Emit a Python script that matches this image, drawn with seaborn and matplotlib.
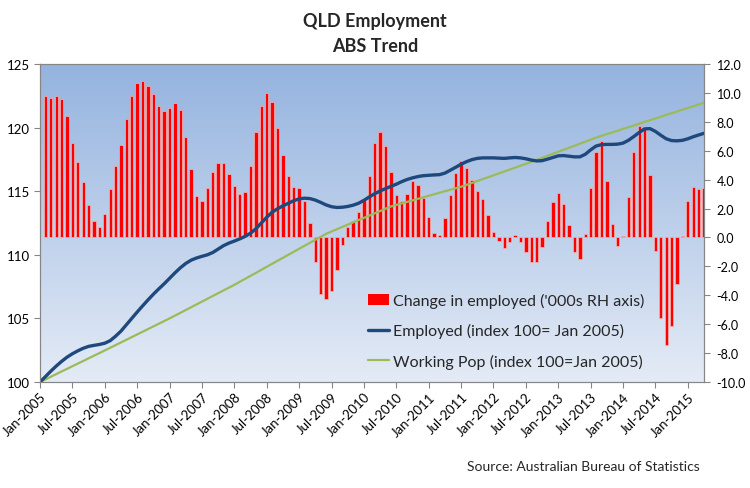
import seaborn as sns
import numpy as np
import matplotlib.pyplot as plt
import matplotlib.colors as mcolors
from matplotlib.patches import Patch
from matplotlib.lines import Line2D

# months Jan-2005 .. Apr-2015 (index 0..123)
months = [f"{m}-{y}" for y in range(2005, 2016) for m in
          ["Jan", "Feb", "Mar", "Apr", "May", "Jun", "Jul", "Aug", "Sep", "Oct", "Nov", "Dec"]][:124]

# change in employed ('000s), Feb-2005 .. Apr-2015
change = [9.77, 9.65, 9.77, 9.56, 8.41, 6.54, 5.20, 3.82, 2.25, 1.12, 0.73,
          1.63, 3.36, 4.97, 6.40, 8.20, 9.77, 10.69, 10.81, 10.51, 9.93, 9.12, 8.78,
          8.96, 9.29, 8.82, 6.93, 4.72, 2.87, 2.55, 3.43, 4.56, 5.18, 5.18, 4.39,
          3.59, 3.01, 3.17, 4.92, 7.28, 9.08, 10.00, 9.35, 7.58, 5.72, 4.28, 3.52,
          3.40, 2.55, 1.00, -1.72, -3.91, -4.26, -3.68, -2.23, -0.50, 0.70, 1.16, 1.74,
          2.62, 4.26, 6.54, 7.28, 6.31, 4.51, 2.94, 2.50, 3.01, 3.89, 3.63, 2.71,
          1.40, 0.31, 0.17, 1.33, 2.94, 4.46, 5.29, 4.78, 4.00, 3.24, 2.66, 1.56,
          0.40, -0.24, -0.75, -0.33, 0.20, -0.29, -0.98, -1.67, -1.67, -0.68, 1.14, 2.48,
          3.08, 2.32, 0.87, -0.98, -1.49, 0.27, 3.40, 5.89, 6.70, 3.89, 0.96, -0.57,
          0.10, 2.78, 5.94, 7.74, 7.58, 4.33, -0.91, -5.59, -7.44, -6.10, -3.22, 0.10,
          2.55, 3.52, 3.36, 3.40]

# employed index (100 = Jan 2005), Jan-2005 .. Apr-2015
employed = [100.00, 100.42, 100.85, 101.25, 101.62, 101.95, 102.22, 102.45, 102.65, 102.80, 102.88, 102.95,
            103.05, 103.25, 103.60, 104.00, 104.50, 105.00, 105.50, 105.98, 106.45, 106.90, 107.32, 107.72,
            108.15, 108.58, 108.98, 109.32, 109.58, 109.75, 109.88, 110.00, 110.18, 110.45, 110.72, 110.92,
            111.08, 111.25, 111.45, 111.70, 112.05, 112.50, 112.95, 113.35, 113.62, 113.85, 114.05, 114.25,
            114.40, 114.45, 114.42, 114.30, 114.12, 113.92, 113.78, 113.72, 113.74, 113.80, 113.90, 114.05,
            114.28, 114.55, 114.80, 115.02, 115.20, 115.38, 115.55, 115.75, 115.92, 116.05, 116.15, 116.22,
            116.25, 116.28, 116.30, 116.42, 116.65, 116.88, 117.12, 117.32, 117.48, 117.58, 117.62, 117.62,
            117.62, 117.60, 117.58, 117.62, 117.65, 117.62, 117.55, 117.45, 117.38, 117.40, 117.52, 117.65,
            117.78, 117.80, 117.75, 117.70, 117.70, 117.90, 118.25, 118.55, 118.66, 118.68, 118.68, 118.70,
            118.78, 119.00, 119.30, 119.62, 119.90, 119.92, 119.70, 119.40, 119.12, 118.98, 118.96, 119.00,
            119.12, 119.28, 119.42, 119.55]

# working age population index (100 = Jan 2005)
working_pop = [100.00, 100.20, 100.41, 100.62, 100.83, 101.03, 101.24, 101.45, 101.65, 101.86, 102.07, 102.27,
               102.48, 102.69, 102.90, 103.11, 103.32, 103.53, 103.74, 103.95, 104.16, 104.37, 104.58, 104.79,
               105.00, 105.22, 105.44, 105.66, 105.88, 106.10, 106.32, 106.54, 106.76, 106.98, 107.20, 107.42,
               107.64, 107.88, 108.11, 108.35, 108.58, 108.82, 109.06, 109.29, 109.53, 109.76, 110.00, 110.24,
               110.47, 110.71, 110.94, 111.18, 111.41, 111.65, 111.83, 112.01, 112.19, 112.37, 112.55, 112.73,
               112.90, 113.08, 113.26, 113.44, 113.62, 113.80, 113.92, 114.04, 114.16, 114.28, 114.40, 114.52,
               114.64, 114.76, 114.88, 115.00, 115.11, 115.23, 115.35, 115.50, 115.65, 115.80, 115.95, 116.10,
               116.25, 116.40, 116.55, 116.70, 116.85, 117.00, 117.15, 117.30, 117.46, 117.62, 117.78, 117.94,
               118.10, 118.26, 118.41, 118.57, 118.73, 118.89, 119.05, 119.21, 119.35, 119.49, 119.62, 119.76,
               119.90, 120.03, 120.17, 120.31, 120.45, 120.58, 120.72, 120.86, 121.00, 121.13, 121.27, 121.41,
               121.54, 121.68, 121.82, 121.95]

sns.set_style("white")
plt.rcParams['font.family'] = ['Lato', 'DejaVu Sans']

fig = plt.figure(figsize=(7.5, 4.89), dpi=100)
ax = fig.add_axes([40/750, 1-383/489, 664/750, 318/489])
ax2 = ax.twinx()

idx_all = np.arange(len(employed))
idx_bar = np.arange(1, len(employed))

# gradient background
cmap = mcolors.LinearSegmentedColormap.from_list("bg", ["#E4EBF6", "#95B3DF"])
grad = np.linspace(0, 1, 256).reshape(-1, 1)
ax.imshow(grad, extent=[0, 123, -10, 12], origin="lower", aspect="auto", cmap=cmap, zorder=0)

sns.barplot(x=idx_bar, y=change, native_scale=True, width=0.62, color="#FF0000",
            edgecolor="#F7B4B4", linewidth=0.5, saturation=1, ax=ax, zorder=2)
sns.lineplot(x=idx_all, y=working_pop, color="#9BBB59", linewidth=1.6, ax=ax2)
sns.lineplot(x=idx_all, y=employed, color="#1F497D", linewidth=2.4, ax=ax2)

ax.set_xlim(0, 123)
ax.set_ylim(-10, 12)
ax2.set_ylim(100, 125)

# bars axis on the right, index axis on the left
ax.yaxis.tick_right()
ax.yaxis.set_label_position("right")
ax2.yaxis.tick_left()
ax2.yaxis.set_label_position("left")
ax.set_yticks(np.arange(-10, 13, 2))
ax.set_yticklabels([f"{v:.1f}" for v in np.arange(-10, 13, 2)])
ax2.set_yticks(np.arange(100, 126, 5))

xt = list(range(0, 121, 6))
ax.set_xticks(xt)
ax.set_xticklabels([months[i] for i in xt], rotation=45, ha="right", rotation_mode="anchor")
ax.set_xlabel("")
ax.set_ylabel("")
ax2.set_xlabel("")
ax2.set_ylabel("")

for a in (ax, ax2):
    a.tick_params(axis="both", which="both", direction="out", length=4, width=0.8,
                  color="#868686", labelsize=9.5, labelcolor="#000000")
    for s in a.spines.values():
        s.set_color("#868686")
        s.set_linewidth(0.8)
ax.tick_params(axis="y", left=False, right=True, pad=5, labelsize=9)
ax2.tick_params(axis="y", left=True, right=False, pad=3)
ax.tick_params(axis="x", bottom=True, pad=2)

handles = [Patch(facecolor="#FF0000", edgecolor="none"),
           Line2D([0], [0], color="#1F497D", lw=2.4),
           Line2D([0], [0], color="#9BBB59", lw=1.6)]
labels = ["Change in employed ('000s RH axis)", "Employed (index 100= Jan 2005)",
          "Working Pop (index 100=Jan 2005)"]
ax2.legend(handles, labels, loc="upper left", bbox_to_anchor=(0.484, 0.30), frameon=False,
           fontsize=11.5, handlelength=1.35, handletextpad=0.2, labelspacing=0.95,
           borderaxespad=0)

fig.text(0.5, 1-21/489, "QLD Employment", ha="center", va="center", fontsize=13, fontweight="bold")
fig.text(0.5, 1-46/489, "ABS Trend", ha="center", va="center", fontsize=13, fontweight="bold")
fig.text(700/750, 1-467/489, "Source: Australian Bureau of Statistics", ha="right", va="center", fontsize=10)

fig.savefig("out.png", dpi=100)
